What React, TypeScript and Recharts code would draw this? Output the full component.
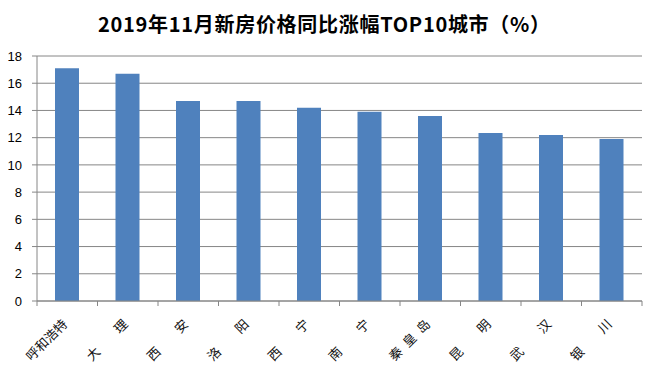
import React from "react";
import { BarChart, Bar, XAxis, YAxis, CartesianGrid } from "recharts";

const cities = ["呼和浩特", "大　　理", "西　　安", "洛　　阳", "西　　宁", "南　　宁", "秦\u2002皇\u2002岛", "昆　　明", "武　　汉", "银　　川"];
const growth = [17.1, 16.7, 14.7, 14.7, 14.2, 13.9, 13.6, 12.35, 12.2, 11.9];
const yTicks = [0, 2, 4, 6, 8, 10, 12, 14, 16, 18];
const title = "2019年11月新房价格同比涨幅TOP10城市（%）";

const data = cities.map((c, i) => ({ city: c, value: growth[i] }));

const W = 653;
const H = 374;
const M = { top: 56, right: 11, bottom: 0, left: 0 };
const Y_W = 37;
const X_H = 73;
const AXIS = "#868686";

const XTick = (props: any) => {
  const { x, y, payload, index } = props;
  const plotW = W - M.left - M.right - Y_W;
  const band = payload && payload.offset ? payload.offset * 2 : plotW / cities.length;
  const half = band / 2;
  const last = index === cities.length - 1;
  return (
    <g>
      <line x1={x - half} y1={y} x2={x - half} y2={y + 5} stroke={AXIS} strokeWidth={1} />
      {last && <line x1={x + half} y1={y} x2={x + half} y2={y + 5} stroke={AXIS} strokeWidth={1} />}
      <text
        transform={`translate(${x + 1},${y + 24}) rotate(-45)`}
        textAnchor="end"
        fontFamily="'Noto Sans CJK SC', sans-serif"
        fontSize={13}
        fill="#111"
      >
        {payload.value}
      </text>
    </g>
  );
};

export default function App() {
  return (
    <div style={{ position: "absolute", left: 0, top: 0, width: W, height: H, background: "#fff" }}>
      <svg width={W} height={H} style={{ position: "absolute", left: 0, top: 0, pointerEvents: "none" }}>
        <text
          x={324}
          y={32}
          textAnchor="middle"
          fontFamily="'Noto Sans CJK SC', sans-serif"
          fontWeight="bold"
          fontSize={20}
          textLength={452}
          lengthAdjust="spacing"
          fill="#000"
        >
          {title}
        </text>
      </svg>
      <div style={{ position: "absolute", left: 0, top: 0 }}>
        <BarChart width={W} height={H} data={data} margin={M}>
          <CartesianGrid vertical={false} stroke={AXIS} strokeWidth={1} />
          <XAxis
            dataKey="city"
            height={X_H}
            interval={0}
            tickLine={false}
            tickSize={0}
            tickMargin={0}
            axisLine={{ stroke: AXIS, strokeWidth: 1 }}
            tick={<XTick />}
          />
          <YAxis
            width={Y_W}
            domain={[0, 18]}
            ticks={yTicks}
            interval={0}
            tickSize={5}
            tickMargin={10}
            axisLine={{ stroke: AXIS, strokeWidth: 1 }}
            tickLine={{ stroke: AXIS, strokeWidth: 1 }}
            tick={{ fontFamily: "'Liberation Sans', Arial, sans-serif", fontSize: 13, fill: "#000" }}
          />
          <Bar dataKey="value" fill="#4F81BD" barSize={24} isAnimationActive={false} />
        </BarChart>
      </div>
    </div>
  );
}
